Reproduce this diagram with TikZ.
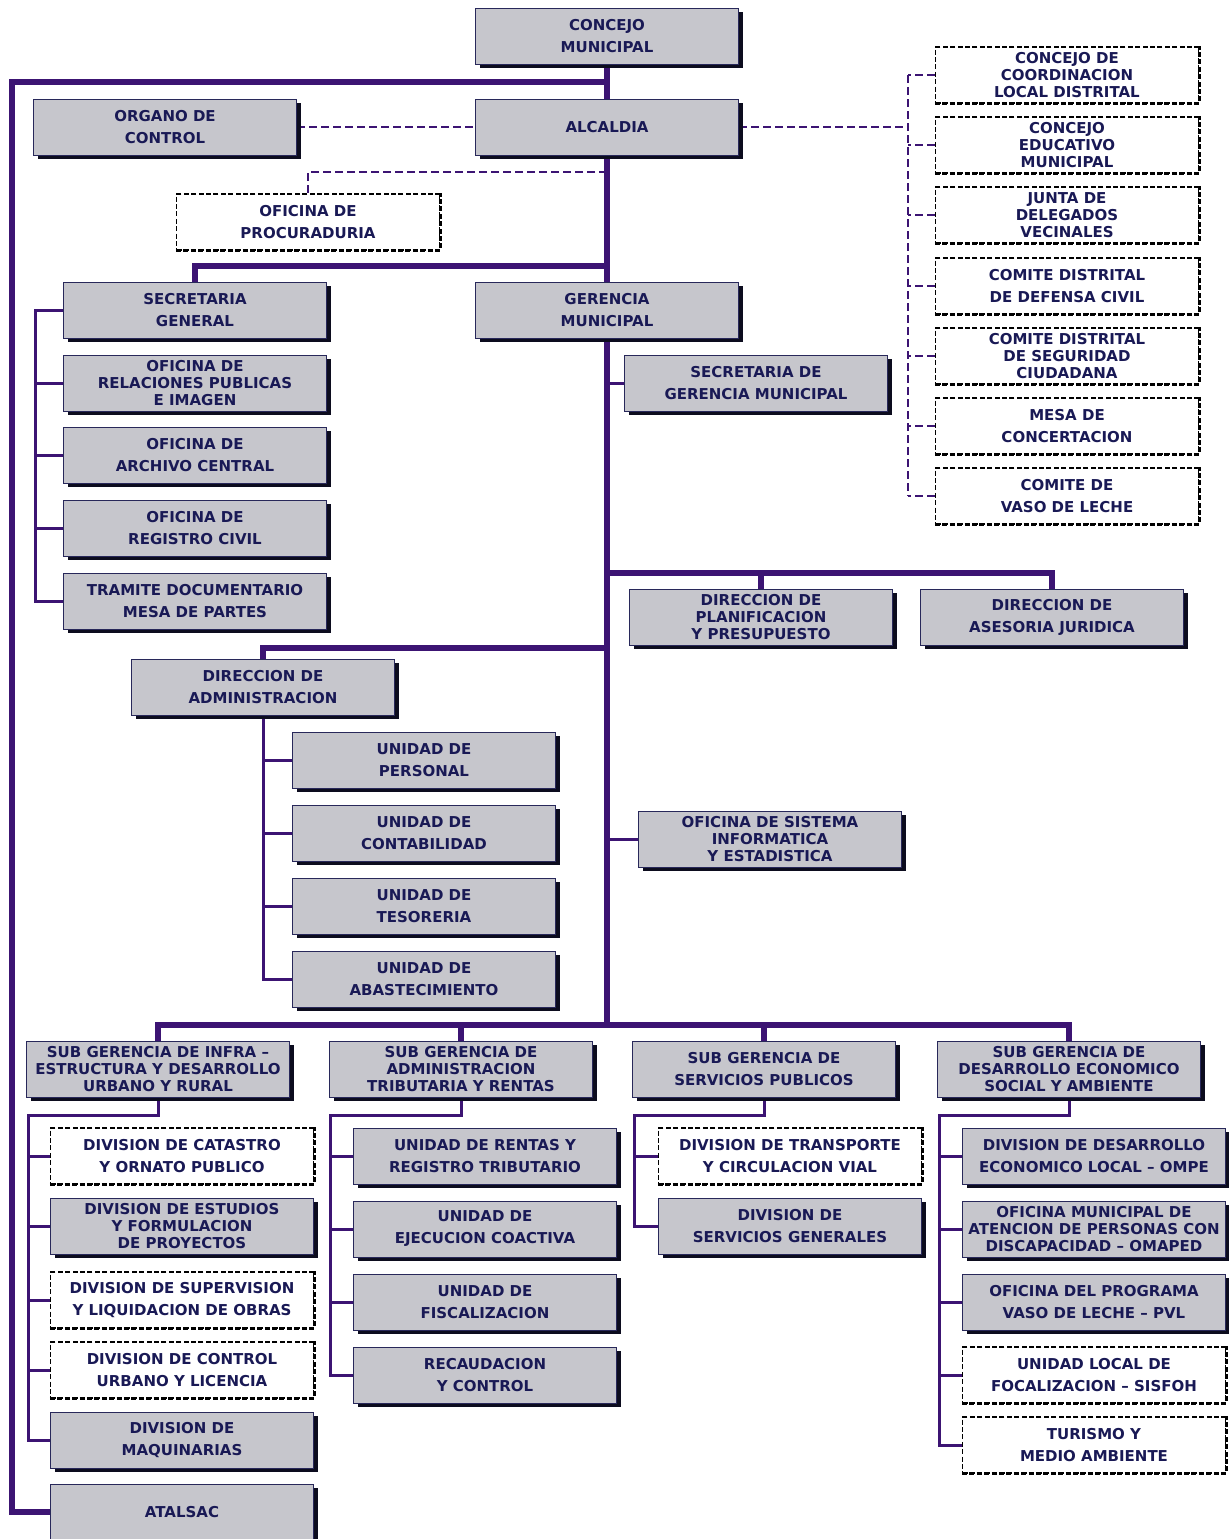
\documentclass[tikz,border=0pt]{standalone}
\usepackage{fontspec}
\setmainfont{DejaVu Sans}
\usetikzlibrary{shadows,backgrounds}
\definecolor{colLinea}{RGB}{60,20,115}
\definecolor{colCaja}{RGB}{198,198,204}
\definecolor{colBorde}{RGB}{40,40,90}
\definecolor{colLetra}{RGB}{25,25,85}
\definecolor{colSombra}{RGB}{12,12,30}

\begin{document}
\begin{tikzpicture}[x=0.5pt,y=-0.5pt,
  caja/.style={draw=colBorde,line width=0.5pt,fill=colCaja,minimum width=131.5pt,minimum height=28pt,inner sep=0pt,align=center,text=colLetra,font=\fontsize{7.5}{11}\selectfont\bfseries,drop shadow={shadow xshift=2.2pt,shadow yshift=-2.2pt,fill=colSombra,opacity=1}},
  punteada/.style={draw=black,line width=0.6pt,dash pattern=on 2.5pt off 1.2pt,fill=white,minimum width=131.5pt,minimum height=28pt,inner sep=0pt,align=center,text=colLetra,font=\fontsize{7.5}{11}\selectfont\bfseries},
  tres/.style={font=\fontsize{7.5}{8.5}\selectfont\bfseries},
  sombrap/.style={draw=black,line width=1.4pt,dash pattern=on 2.5pt off 1.2pt},
  gruesa/.style={draw=colLinea,line width=2.6pt},
  fina/.style={draw=colLinea,line width=1.5pt},
  trazos/.style={draw=colLinea,line width=1pt,dash pattern=on 4pt off 2pt}]
\useasboundingbox (0,0) rectangle (1229,1539);
\node[caja] (1) at (607,36) {CONCEJO\\MUNICIPAL};
\node[caja] (2) at (607,127) {ALCALDIA};
\node[caja] (3) at (165,127) {ORGANO DE\\CONTROL};
\node[punteada] (4) at (308,222) {OFICINA DE\\PROCURADURIA};
\node[caja] (5) at (195,310) {SECRETARIA\\GENERAL};
\node[caja] (6) at (607,310) {GERENCIA\\MUNICIPAL};
\node[caja,tres] (7) at (195,383) {OFICINA DE\\RELACIONES PUBLICAS\\E IMAGEN};
\node[caja] (8) at (195,455) {OFICINA DE\\ARCHIVO CENTRAL};
\node[caja] (9) at (195,528) {OFICINA DE\\REGISTRO CIVIL};
\node[caja] (10) at (195,601) {TRAMITE DOCUMENTARIO\\MESA DE PARTES};
\node[caja] (11) at (756,383) {SECRETARIA DE\\GERENCIA MUNICIPAL};
\node[punteada,tres] (12) at (1067,75) {CONCEJO DE\\COORDINACION\\LOCAL DISTRITAL};
\node[punteada,tres] (13) at (1067,145) {CONCEJO\\EDUCATIVO\\MUNICIPAL};
\node[punteada,tres] (14) at (1067,215) {JUNTA DE\\DELEGADOS\\VECINALES};
\node[punteada] (15) at (1067,286) {COMITE DISTRITAL\\DE DEFENSA CIVIL};
\node[punteada,tres] (16) at (1067,356) {COMITE DISTRITAL\\DE SEGURIDAD\\CIUDADANA};
\node[punteada] (17) at (1067,426) {MESA DE\\CONCERTACION};
\node[punteada] (18) at (1067,496) {COMITE DE\\VASO DE LECHE};
\node[caja,tres] (19) at (761,617) {DIRECCION DE\\PLANIFICACION\\Y PRESUPUESTO};
\node[caja] (20) at (1052,617) {DIRECCION DE\\ASESORIA JURIDICA};
\node[caja] (21) at (263,687) {DIRECCION DE\\ADMINISTRACION};
\node[caja] (22) at (424,760) {UNIDAD DE\\PERSONAL};
\node[caja] (23) at (424,833) {UNIDAD DE\\CONTABILIDAD};
\node[caja] (24) at (424,906) {UNIDAD DE\\TESORERIA};
\node[caja] (25) at (424,979) {UNIDAD DE\\ABASTECIMIENTO};
\node[caja,tres] (26) at (770,839) {OFICINA DE SISTEMA\\INFORMATICA\\Y ESTADISTICA};
\node[caja,tres] (27) at (158,1069) {SUB GERENCIA DE INFRA –\\ESTRUCTURA Y DESARROLLO\\URBANO Y RURAL};
\node[caja,tres] (28) at (461,1069) {SUB GERENCIA DE\\ADMINISTRACION\\TRIBUTARIA Y RENTAS};
\node[caja] (29) at (764,1069) {SUB GERENCIA DE\\SERVICIOS PUBLICOS};
\node[caja,tres] (30) at (1069,1069) {SUB GERENCIA DE\\DESARROLLO ECONOMICO\\SOCIAL Y AMBIENTE};
\node[punteada] (31) at (182,1156) {DIVISION DE CATASTRO\\Y ORNATO PUBLICO};
\node[caja,tres] (32) at (182,1226) {DIVISION DE ESTUDIOS\\Y FORMULACION\\DE PROYECTOS};
\node[punteada] (33) at (182,1300) {DIVISION DE SUPERVISION\\Y LIQUIDACION DE OBRAS};
\node[punteada] (34) at (182,1370) {DIVISION DE CONTROL\\URBANO Y LICENCIA};
\node[caja] (35) at (182,1440) {DIVISION DE\\MAQUINARIAS};
\node[caja] (36) at (182,1512) {ATALSAC};
\node[caja] (37) at (485,1156) {UNIDAD DE RENTAS Y\\REGISTRO TRIBUTARIO};
\node[caja] (38) at (485,1229) {UNIDAD DE\\EJECUCION COACTIVA};
\node[caja] (39) at (485,1302) {UNIDAD DE\\FISCALIZACION};
\node[caja] (40) at (485,1375) {RECAUDACION\\Y CONTROL};
\node[punteada] (41) at (790,1156) {DIVISION DE TRANSPORTE\\Y CIRCULACION VIAL};
\node[caja] (42) at (790,1226) {DIVISION DE\\SERVICIOS GENERALES};
\node[caja] (43) at (1094,1156) {DIVISION DE DESARROLLO\\ECONOMICO LOCAL – OMPE};
\node[caja,tres] (44) at (1094,1229) {OFICINA MUNICIPAL DE\\ATENCION DE PERSONAS CON\\DISCAPACIDAD – OMAPED};
\node[caja] (45) at (1094,1302) {OFICINA DEL PROGRAMA\\VASO DE LECHE – PVL};
\node[punteada] (46) at (1094,1375) {UNIDAD LOCAL DE\\FOCALIZACION – SISFOH};
\node[punteada] (47) at (1094,1445) {TURISMO Y\\MEDIO AMBIENTE};
\foreach \n in {4,12,13,14,15,16,17,18,31,33,34,41,46,47}
  \draw[sombrap] (\n.south west) -- (\n.south east) -- (\n.north east);
\begin{scope}[on background layer]
\coordinate (a) at (607,82);
\coordinate (i) at (12,82);
\coordinate (p) at (607,172);
\coordinate (s) at (607,266);
\coordinate (d) at (607,573);
\coordinate (m) at (607,648);
\coordinate (b) at (607,1025);
\coordinate (c2) at (908,127);
\coordinate (c5) at (35,310);
\coordinate (c27) at (28,1115);
\coordinate (c28) at (330,1115);
\coordinate (c29) at (634,1115);
\coordinate (c30) at (939,1115);
\draw[gruesa] (1.south) -- (b);
\draw[gruesa] (a) -- (i) |- (36.west);
\draw[gruesa] (s) -| (5.north);
\draw[gruesa] (d) -| (20.north);
\draw[gruesa] (d) -| (19.north);
\draw[gruesa] (m) -| (21.north);
\foreach \n in {27,28,29,30}
  \draw[gruesa] (b) -| (\n.north);
\draw[fina] (11.west) -- (11.west -| b);
\draw[fina] (26.west) -- (26.west -| b);
\draw[fina] (5.west) -- (c5) |- (10.west);
\foreach \n in {7,8,9}
  \draw[fina] (\n.west) -- (\n.west -| c5);
\draw[fina] (21.south) |- (25.west);
\foreach \n in {22,23,24}
  \draw[fina] (\n.west) -- (\n.west -| 21.south);
\draw[fina] (27.south) |- (c27) |- (35.west);
\foreach \n in {31,32,33,34}
  \draw[fina] (\n.west) -- (\n.west -| c27);
\draw[fina] (28.south) |- (c28) |- (40.west);
\foreach \n in {37,38,39}
  \draw[fina] (\n.west) -- (\n.west -| c28);
\draw[fina] (29.south) |- (c29) |- (42.west);
\draw[fina] (41.west) -- (41.west -| c29);
\draw[fina] (30.south) |- (c30) |- (47.west);
\foreach \n in {43,44,45,46}
  \draw[fina] (\n.west) -- (\n.west -| c30);
\draw[trazos] (3.east) -- (2.west);
\draw[trazos] (p) -| (4.north);
\draw[trazos] (2.east) -- (c2);
\draw[trazos] (12.west -| c2) -- (18.west -| c2);
\foreach \n in {12,...,18}
  \draw[trazos] (\n.west) -- (\n.west -| c2);
\end{scope}
\end{tikzpicture}
\end{document}
